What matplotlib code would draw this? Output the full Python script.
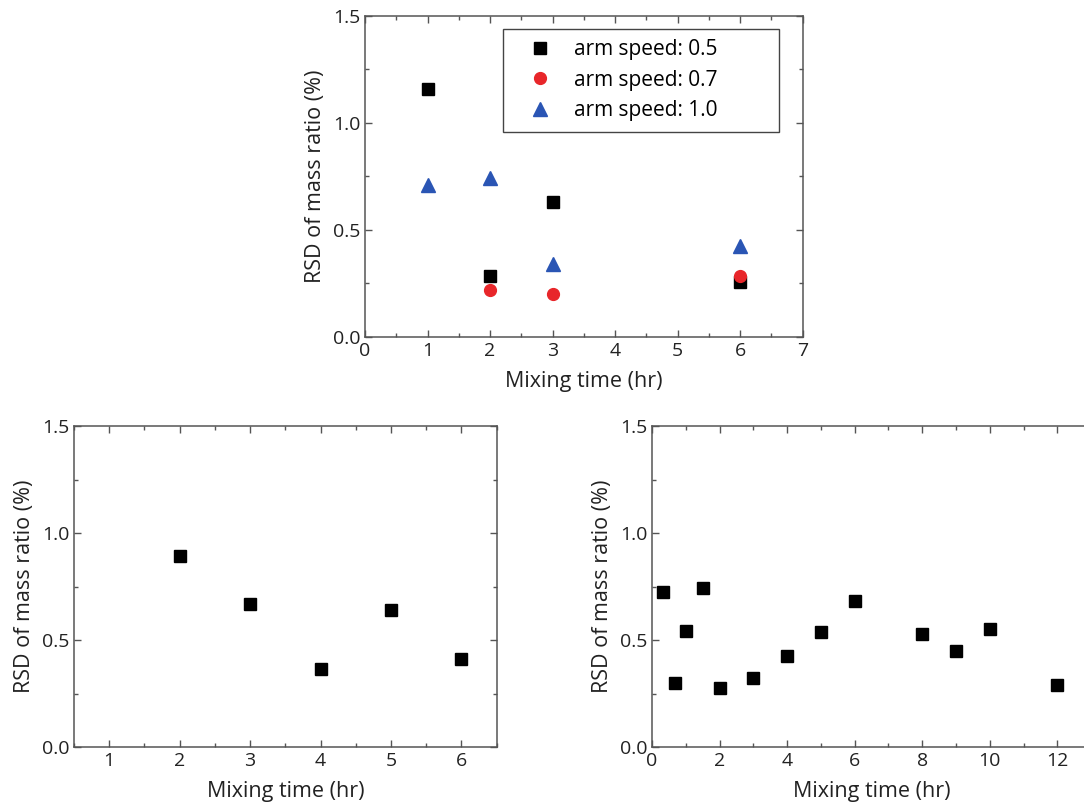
import numpy as np
import matplotlib
matplotlib.use("Agg")
import matplotlib.pyplot as plt
from matplotlib.ticker import MultipleLocator

plt.rcParams['font.family'] = ['Open Sans', 'DejaVu Sans']

# top panel: three arm speeds
t_top = [1, 2, 3, 6]
rsd_05 = [1.158, 0.284, 0.631, 0.254]
rsd_07_t = [2, 3, 6]
rsd_07 = [0.218, 0.201, 0.285]
rsd_10 = [0.71, 0.744, 0.339, 0.426]

# bottom left
t_bl = [2, 3, 4, 5, 6]
rsd_bl = [0.892, 0.668, 0.367, 0.641, 0.412]

# bottom right
t_br = [0.33, 0.67, 1.0, 1.5, 2, 3, 4, 5, 6, 8, 9, 10, 12]
rsd_br = [0.724, 0.301, 0.542, 0.743, 0.276, 0.324, 0.425, 0.536, 0.681,
          0.53, 0.449, 0.553, 0.29]

W, H = 1084, 806
fig = plt.figure(figsize=(W / 100, H / 100), dpi=100)


def px_axes(x0, y0, x1, y1):
    return fig.add_axes([x0 / W, 1 - y1 / H, (x1 - x0) / W, (y1 - y0) / H])


def style(ax, xmaj, xmin):
    ax.set_ylim(0, 1.5)
    ax.yaxis.set_major_locator(MultipleLocator(0.5))
    ax.yaxis.set_minor_locator(MultipleLocator(0.25))
    ax.xaxis.set_major_locator(MultipleLocator(xmaj))
    ax.xaxis.set_minor_locator(MultipleLocator(xmin))
    ax.tick_params(which='both', direction='in', top=True, right=True,
                   labelsize=14, colors='#555555', labelcolor='#222222')
    ax.tick_params(which='major', length=5, width=1)
    ax.tick_params(which='minor', length=3, width=1)
    for s in ax.spines.values():
        s.set_color('#555555')
        s.set_linewidth(1.1)
    ax.set_xlabel("Mixing time (hr)", fontsize=15.5, labelpad=8, color='#222222')
    ax.set_ylabel("RSD of mass ratio (%)", fontsize=15.5, labelpad=5, color='#222222')


ms = 8.5

ax1 = px_axes(365, 16, 802.7, 336.7)
ax1.plot(t_top, rsd_05, 's', color='black', ms=ms, label='arm speed: 0.5')
ax1.plot(rsd_07_t, rsd_07, 'o', color='#e8262a', ms=ms, label='arm speed: 0.7')
ax1.plot(t_top, rsd_10, '^', color='#2a55b4', ms=ms + 1, label='arm speed: 1.0')
ax1.set_xlim(0, 7)
style(ax1, 1, 0.5)
leg = ax1.legend(loc='upper left', bbox_to_anchor=(0.3146, 0.9595, 0.632, 0.0),
                 mode='expand', borderaxespad=0, fontsize=15,
                 fancybox=False, edgecolor='#444444', framealpha=1,
                 handletextpad=0.3, borderpad=0.5, labelspacing=0.45,
                 handlelength=2.6)
leg.get_frame().set_linewidth(1.0)

ax2 = px_axes(74, 426, 496.7, 747.3)
ax2.plot(t_bl, rsd_bl, 's', color='black', ms=ms)
ax2.set_xlim(0.5, 6.5)
style(ax2, 1, 0.5)

ax3 = px_axes(652, 426, 652 + 13 * 33.78, 747.3)
ax3.plot(t_br, rsd_br, 's', color='black', ms=ms)
ax3.set_xlim(0, 13)
style(ax3, 2, 1)

fig.savefig("out.png", dpi=100)
